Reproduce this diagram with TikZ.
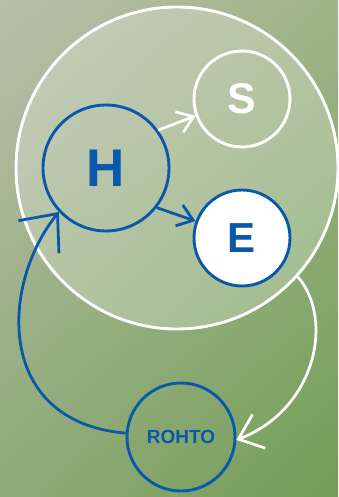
\documentclass[tikz,border=0pt]{standalone}
\usepackage{fontspec}
\setmainfont{Liberation Sans}
\usetikzlibrary{arrows.meta,shadings}
\definecolor{rblue}{RGB}{10,88,170}
\definecolor{bgUL}{RGB}{184,191,170}
\definecolor{bgUR}{RGB}{160,180,136}
\definecolor{bgLL}{RGB}{144,170,120}
\definecolor{bgLR}{RGB}{114,158,86}
\tikzset{
  ring/.style={circle, inner sep=0pt, line width=2.9pt},
  wring/.style={ring, draw=white},
  bring/.style={ring, draw=rblue},
  lbl/.style={font=\bfseries},
  wline/.style={draw=white, line width=2.7pt},
  bline/.style={draw=rblue, line width=2.8pt},
  smallbarb/.style={-{Straight Barb[length=15pt, width=22pt]}},
  bigbarb/.style={-{Straight Barb[length=22pt, width=36pt]}},
  hugebarb/.style={-{Straight Barb[length=30pt, width=52pt]}}
}
\begin{document}
\begin{tikzpicture}[x=1pt, y=-1pt]
\useasboundingbox (0,0) rectangle (338,497);
\shade[upper left=bgUL, upper right=bgUR, lower left=bgLL, lower right=bgLR] (0,0) rectangle (338,497);
\node[wring, fill=white, fill opacity=0.24, draw opacity=1, minimum size=322pt] (big) at (177,168) {};
\node[bring, minimum size=126pt] (H) at (106,168) {};
\node[lbl, text=rblue, font=\bfseries\fontsize{53}{53}\selectfont] at (H) {H};
\node[wring, minimum size=96pt] (S) at (242,99) {};
\node[lbl, text=white, font=\bfseries\fontsize{43}{43}\selectfont] at (S) {S};
\node[bring, fill=white, minimum size=96pt] (E) at (242,238) {};
\node[lbl, text=rblue, font=\bfseries\fontsize{42}{42}\selectfont] at (E) {E};
\node[bring, minimum size=108pt] (R) at (181,437) {};
\node[lbl, text=rblue, font=\bfseries\fontsize{19}{19}\selectfont] at (R) {ROHTO};
\draw[wline, smallbarb] (H.36) -- (S.200);
\draw[bline, smallbarb] (H.-38) -- (E.160);
\draw[wline, bigbarb] (big.-42) .. controls (335,320) and (315,410) .. (R.-3);
\draw[bline, hugebarb] (R.176) .. controls (-5,422) and (0,285) .. (H.223);
\end{tikzpicture}
\end{document}
